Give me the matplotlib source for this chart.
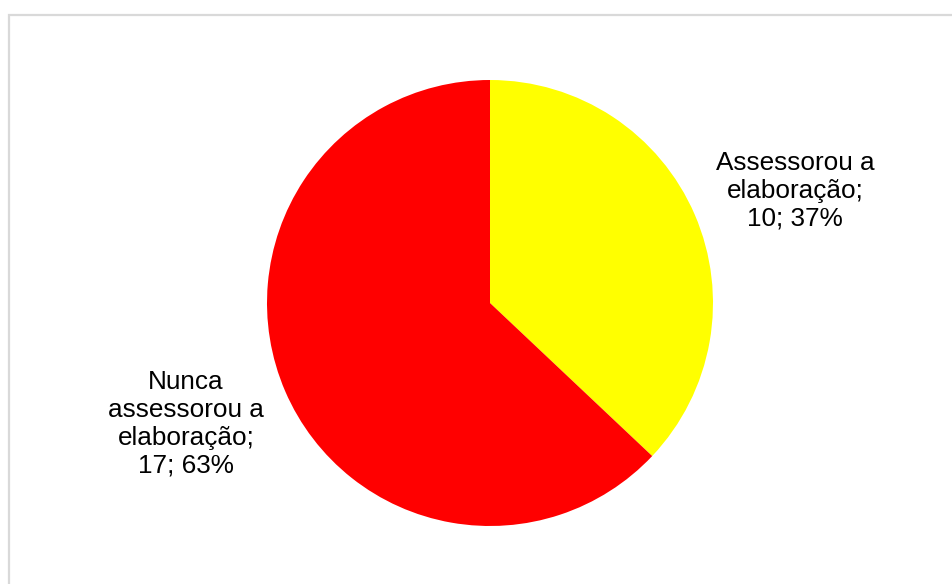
import matplotlib
matplotlib.use("Agg")
import matplotlib.pyplot as plt
from matplotlib.patches import Rectangle

plt.rcParams['font.family'] = ['Liberation Sans', 'DejaVu Sans']

# data
labels = ['Assessorou a\nelaboração', 'Nunca\nassessorou a\nelaboração']
counts = [10, 17]
colors = ['#ffff00', '#ff0000']
label_pos = [(795, 393), (186, 160)]

fig = plt.figure(figsize=(9.52, 5.84), dpi=100)
ax = fig.add_axes([0, 0, 1, 1])

# chart frame (top and left edges visible)
fig.patches.append(Rectangle((9 / 952, -0.05), 1.0, (584 - 15) / 584 + 0.05,
                             transform=fig.transFigure, fill=False,
                             edgecolor='#d9d9d9', linewidth=1.6))

ax.pie(counts, colors=colors, startangle=90, counterclock=False,
       center=(490, 281), radius=223, frame=True,
       wedgeprops=dict(linewidth=0))
ax.set_xlim(0, 952)
ax.set_ylim(0, 584)
ax.axis('off')

total = sum(counts)
for lab, n, (x, y) in zip(labels, counts, label_pos):
    txt = "%s;\n%d; %d%%" % (lab, n, round(100.0 * n / total))
    ax.text(x, y, txt, ha='center', va='center', fontsize=18.8,
            linespacing=1.2, color='#000000')

fig.savefig('out.png', dpi=100)
